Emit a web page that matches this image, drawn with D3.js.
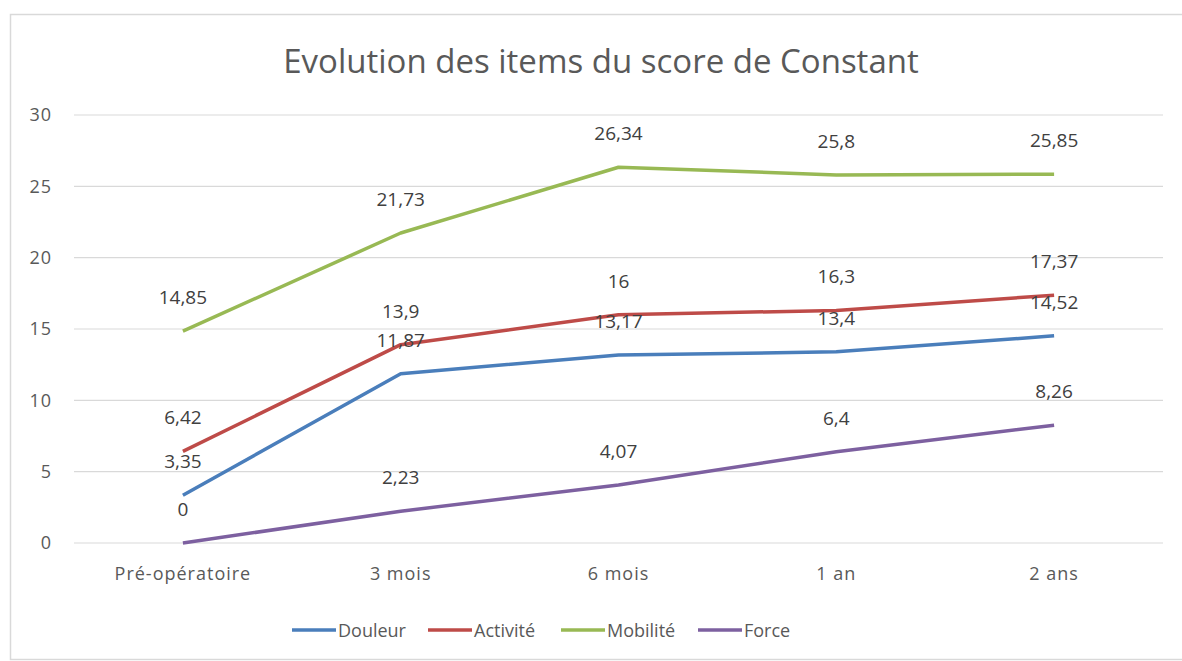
<!DOCTYPE html>
<html>
<head>
<meta charset="utf-8">
<script src="https://cdn.jsdelivr.net/npm/d3@7"></script>
<style>
  body { margin: 0; background: #fff; }
  text { font-family: "Open Sans", sans-serif; fill: #595959; }
</style>
</head>
<body>
<svg id="chart" width="1182" height="661"></svg>
<script>
var categories = ['Pré-opératoire', '3 mois', '6 mois', '1 an', '2 ans'];
var douleur = [3.35, 11.87, 13.17, 13.4, 14.52];
var activite = [6.42, 13.9, 16, 16.3, 17.37];
var mobilite = [14.85, 21.73, 26.34, 25.8, 25.85];
var force = [0, 2.23, 4.07, 6.4, 8.26];
var seriesNames = ['Douleur', 'Activité', 'Mobilité', 'Force'];
var yTicks = [0, 5, 10, 15, 20, 25, 30];

var series = [
  { name: seriesNames[0], values: douleur, color: '#4a7ebb' },
  { name: seriesNames[1], values: activite, color: '#be4b48' },
  { name: seriesNames[2], values: mobilite, color: '#98b954' },
  { name: seriesNames[3], values: force, color: '#7d60a0' }
];

var svg = d3.select('#chart');

// outer frame
svg.append('rect')
  .attr('x', 10.5).attr('y', 14.5)
  .attr('width', 1200).attr('height', 645)
  .attr('fill', 'none').attr('stroke', '#d9d9d9').attr('stroke-width', 1.5);

svg.append('text')
  .attr('x', 601).attr('y', 73)
  .attr('text-anchor', 'middle')
  .style('font-size', '33px')
  .text('Evolution des items du score de Constant');

var x = d3.scaleBand().domain(categories).range([74, 1163]);
var y = d3.scaleLinear().domain([0, 30]).range([543, 115]);

// gridlines
svg.append('g').selectAll('line')
  .data(yTicks).enter()
  .append('line')
  .attr('x1', 74).attr('x2', 1163)
  .attr('y1', function(d){ return y(d); })
  .attr('y2', function(d){ return y(d); })
  .attr('stroke', '#d9d9d9').attr('stroke-width', 1.2);

var yAxis = svg.append('g')
  .attr('transform', 'translate(74,0)')
  .call(d3.axisLeft(y).tickValues(yTicks).tickSize(0).tickPadding(22));
yAxis.select('.domain').remove();
yAxis.selectAll('text').style('font-size', '18px').style('letter-spacing', '1px')
  .style('font-family', '"Open Sans", sans-serif').attr('fill', '#595959');

var xAxis = svg.append('g')
  .attr('transform', 'translate(0,543)')
  .call(d3.axisBottom(x).tickSize(0).tickPadding(24));
xAxis.select('.domain').remove();
xAxis.selectAll('text').style('font-size', '18px').style('letter-spacing', '1px')
  .style('font-family', '"Open Sans", sans-serif').attr('fill', '#595959');

var line = d3.line()
  .x(function(d, i){ return x(categories[i]) + x.bandwidth() / 2; })
  .y(function(d){ return y(d); });

series.forEach(function(s) {
  svg.append('path')
    .datum(s.values)
    .attr('d', line)
    .attr('fill', 'none')
    .attr('stroke', s.color)
    .attr('stroke-width', 3.5)
    .attr('stroke-linejoin', 'round');
});

series.forEach(function(s) {
  svg.append('g').selectAll('text')
    .data(s.values).enter()
    .append('text')
    .attr('x', function(d, i){ return x(categories[i]) + x.bandwidth() / 2; })
    .attr('y', function(d){ return y(d) - 27; })
    .attr('text-anchor', 'middle')
    .style('font-size', '19px')
    .style('fill', '#404040')
    .text(function(d){ return String(d).replace('.', ','); });
});

// legend
var legendX = [292, 428, 561, 698];
var legend = svg.append('g').selectAll('g')
  .data(series).enter()
  .append('g')
  .attr('transform', function(d, i){ return 'translate(' + legendX[i] + ',630)'; });
legend.append('line')
  .attr('x1', 0).attr('x2', 44)
  .attr('stroke', function(d){ return d.color; })
  .attr('stroke-width', 3.5);
legend.append('text')
  .attr('x', 46).attr('y', 7)
  .style('font-size', '18px')
  .text(function(d){ return d.name; });
</script>
</body>
</html>
